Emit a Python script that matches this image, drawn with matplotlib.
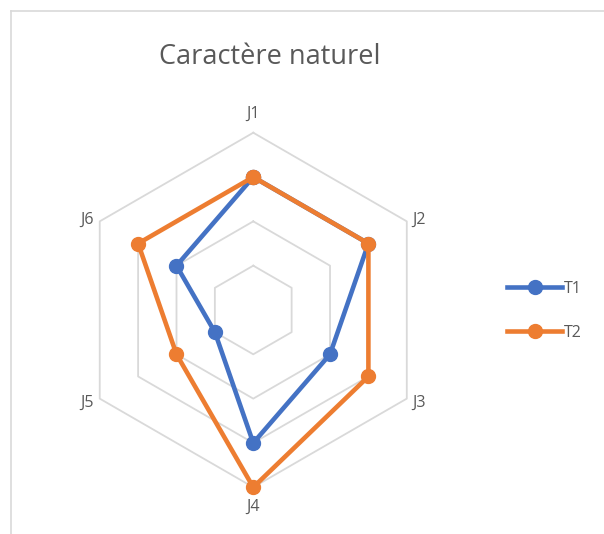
import numpy as np
import matplotlib
matplotlib.use("Agg")
import matplotlib.pyplot as plt
from matplotlib.lines import Line2D

plt.rcParams['font.family'] = ['Open Sans', 'DejaVu Sans']

categories = ["J1", "J2", "J3", "J4", "J5", "J6"]
t1 = [3, 3, 2, 3, 1, 2]
t2 = [3, 3, 3, 4, 2, 3]
ring_values = [1, 2, 3, 4]

bleu = "#4472C4"
orange = "#ED7D31"
gris = "#D9D9D9"
texte = "#595959"

fig = plt.figure(figsize=(6.04, 5.34), dpi=100)

# cadre du graphique
fig.add_artist(Line2D([10.5 / 604, 1.0], [1 - 10.5 / 534] * 2, color=gris, lw=1.2))
fig.add_artist(Line2D([10.5 / 604] * 2, [0.0, 1 - 10.5 / 534], color=gris, lw=1.2))

ax = fig.add_axes([0.1258, 0.0875, 0.587, 0.664], projection="polar")
ax.set_theta_offset(np.pi / 2)
ax.set_theta_direction(-1)
ax.set_ylim(0, 4)
ax.grid(False)
ax.spines["polar"].set_visible(False)
ax.set_xticks([])
ax.set_yticks([])
ax.patch.set_alpha(0)

n = len(categories)
angles = np.arange(n) * 2 * np.pi / n
closed = np.append(angles, angles[0])

# grille hexagonale (pas de rayons)
for r in ring_values:
    ax.plot(closed, [r] * (n + 1), color=gris, lw=1.3, zorder=1, clip_on=False)

for vals, col, lab in [(t1, bleu, "T1"), (t2, orange, "T2")]:
    ax.plot(closed, vals + vals[:1], color=col, lw=3.3, marker="o",
            markersize=10, label=lab, zorder=3, solid_joinstyle="round",
            clip_on=False)

# étiquettes des axes
offsets = [(0, 8, "center", "bottom"), (4, 1, "left", "center"),
           (4, -3, "left", "center"), (0, -8, "center", "top"),
           (-4, -3, "right", "center"), (-4, 1, "right", "center")]
for a, lab, (dx, dy, ha, va) in zip(angles, categories, offsets):
    ax.annotate(lab, xy=(a, ring_values[-1]), xytext=(dx, dy),
                textcoords="offset points", ha=ha, va=va,
                fontsize=11.5, color=texte, annotation_clip=False)

fig.text(270 / 604, 1 - 57 / 534, "Caractère naturel", ha="center", va="center",
         fontsize=19.5, color=texte)

leg = fig.legend(loc="center left", bbox_to_anchor=(501 / 604, 1 - 311 / 534),
                 frameon=False, fontsize=11.5, handlelength=3.4,
                 handletextpad=0.15, labelspacing=1.75, borderaxespad=0)
for t in leg.get_texts():
    t.set_color(texte)

fig.savefig("out.png", dpi=100)
